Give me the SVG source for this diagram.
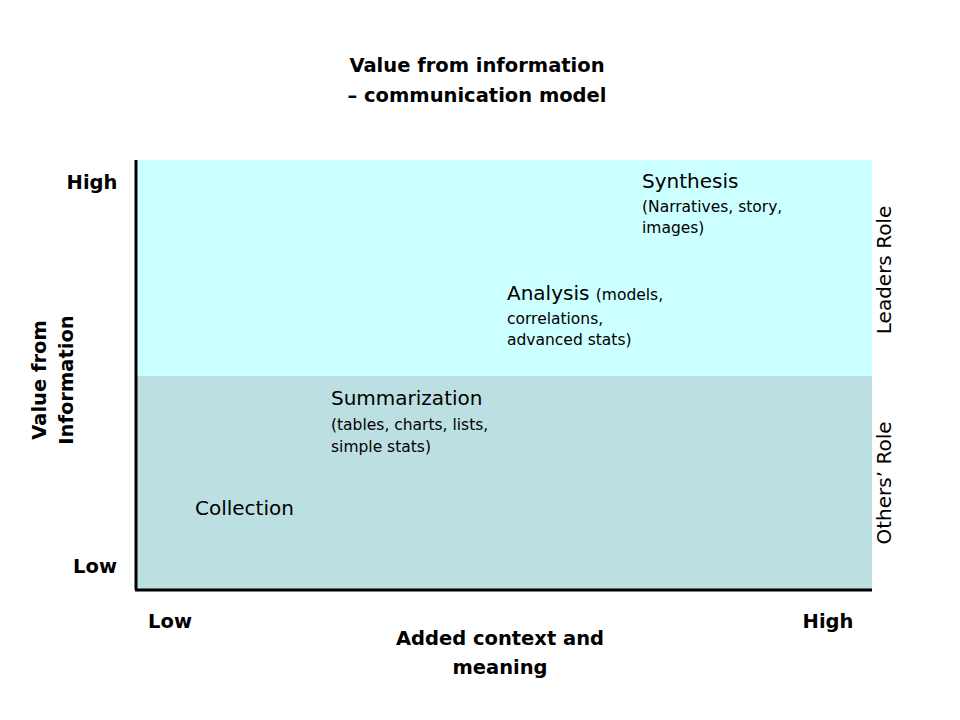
<svg xmlns="http://www.w3.org/2000/svg" width="960" height="720" viewBox="0 0 960 720">
<style>
.b{font-family:"DejaVu Sans",Verdana,sans-serif;font-weight:bold;font-size:19.5px;fill:#000}
.n{font-family:"DejaVu Sans",Verdana,sans-serif;font-size:20px;fill:#000}
.s{font-family:"DejaVu Sans",Verdana,sans-serif;font-size:15.5px;fill:#000}
</style>
<rect width="960" height="720" fill="#fff"/>
<g id="regions">
<rect x="136" y="160" width="736" height="216" fill="#CCFFFF"/>
<rect x="136" y="376" width="736" height="214" fill="#BCE0E2"/>
</g>
<g id="connectors" stroke="#000" stroke-width="3">
<line x1="136" y1="160" x2="136" y2="590"/>
<line x1="135" y1="590" x2="872" y2="590"/>
</g>
<g id="title"><text class="b" x="477" y="72" text-anchor="middle">Value from information</text>
<text class="b" x="477" y="102" text-anchor="middle">– communication model</text></g>
<g id="yaxis">
<text class="b" x="92" y="189" text-anchor="middle">High</text>
<text class="b" x="95" y="573" text-anchor="middle">Low</text>
<text class="b" transform="translate(46,380) rotate(-90)" text-anchor="middle">Value from</text>
<text class="b" transform="translate(73,380) rotate(-90)" text-anchor="middle">Information</text>
</g>
<g id="xaxis">
<text class="b" x="170" y="628" text-anchor="middle">Low</text>
<text class="b" x="828" y="628" text-anchor="middle">High</text>
<text class="b" x="500" y="645" text-anchor="middle">Added context and</text>
<text class="b" x="500" y="674" text-anchor="middle">meaning</text>
</g>
<g id="roles">
<text class="n" transform="translate(891,270) rotate(-90)" text-anchor="middle">Leaders Role</text>
<text class="n" transform="translate(891,483) rotate(-90)" text-anchor="middle">Others’ Role</text>
</g>
<g id="synthesis"><text class="n" x="642" y="188">Synthesis</text>
<text class="s" x="642" y="212">(Narratives, story,</text>
<text class="s" x="642" y="233">images)</text></g>
<g id="analysis"><text class="n" x="507" y="300">Analysis <tspan class="s">(models,</tspan></text>
<text class="s" x="507" y="324">correlations,</text>
<text class="s" x="507" y="345">advanced stats)</text></g>
<g id="summarization"><text class="n" x="331" y="405">Summarization</text>
<text class="s" x="331" y="430">(tables, charts, lists,</text>
<text class="s" x="331" y="452">simple stats)</text></g>
<g id="collection"><text class="n" x="195" y="515">Collection</text></g>
</svg>
